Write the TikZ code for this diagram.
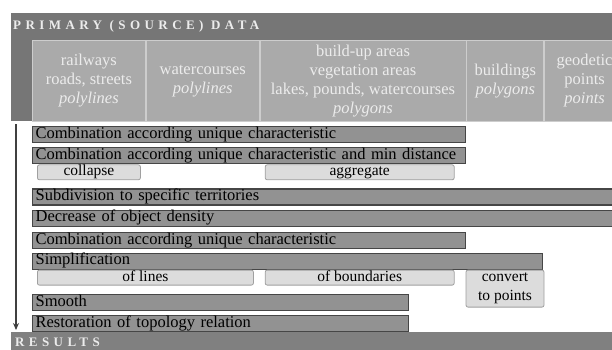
\documentclass[tikz,border=0pt]{standalone}
\usepackage{fontspec}
\setmainfont{Liberation Serif}
\usetikzlibrary{arrows.meta, positioning}
\definecolor{banddark}{RGB}{118,118,118}
\definecolor{bandlow}{RGB}{128,128,128}
\definecolor{colgray}{RGB}{170,170,170}
\definecolor{colline}{RGB}{205,205,205}
\definecolor{bargray}{RGB}{146,146,146}
\definecolor{barline}{RGB}{70,70,70}
\definecolor{subgray}{RGB}{220,220,220}
\definecolor{subline}{RGB}{160,160,160}
\definecolor{softwhite}{RGB}{236,236,236}

\begin{document}
\begin{tikzpicture}[
    x=1pt, y=1pt,
    band/.style={fill=banddark, anchor=north west, inner sep=0pt},
    headtext/.style={anchor=west, text=softwhite, inner sep=0pt,
        font=\fontsize{13}{13}\selectfont\bfseries\addfontfeature{LetterSpace=34}},
    column/.style={fill=colgray, draw=colline, line width=0.8pt, anchor=north west,
        minimum height=81pt, inner sep=0pt, align=center, text=softwhite,
        font=\fontsize{16.5}{19}\selectfont},
    bar/.style={fill=bargray, draw=barline, line width=1.2pt, anchor=north west,
        minimum height=16pt, inner xsep=3pt, inner ysep=0pt, align=left,
        text height=11pt, text depth=3.5pt, font=\fontsize{16.5}{16.5}\selectfont},
    subbox/.style={fill=subgray, draw=subline, line width=0.8pt, rounded corners=2pt,
        anchor=north west, inner sep=0pt, align=center,
        font=\fontsize{15.5}{19}\selectfont},
    onerow/.style={subbox, minimum height=15pt, text height=10pt, text depth=3pt},
    flow/.style={-{Stealth[length=7pt, width=6pt]}, line width=1.4pt, draw=black!75}
]
\clip (0,0) rectangle (612,-350);

% Source data
\node[band, minimum width=610pt, minimum height=108pt] (src) at (11,-13) {};
\node[headtext] (srctitle) at (13,-26) {PRIMARY (SOURCE) DATA};
\node[column, minimum width=113pt] (rail) at (32,-40) {railways\\roads, streets\\\textit{polylines}};
\node[column, minimum width=113pt, right=0pt of rail] (water) {watercourses\\\textit{polylines}};
\node[column, minimum width=206pt, right=0pt of water] (areas) {build-up areas\\vegetation areas\\lakes, pounds, watercourses\\\textit{polygons}};
\node[column, minimum width=77pt, right=0pt of areas] (bldg) {buildings\\\textit{polygons}};
\node[column, minimum width=80pt, right=0pt of bldg] (geod) {geodetic\\points\\\textit{points}};

% Steps
\node[bar, text width=427pt] (comb) at (32,-126) {Combination according unique characteristic};
\node[bar, text width=427pt, below=4pt of comb.south west, anchor=north west] (combdist) {Combination according unique characteristic and min distance};
\node[onerow, minimum width=103pt, below right=0pt and 5pt of combdist.south west, anchor=north west] (collapse) {collapse};
\node[onerow, minimum width=189pt, right=124pt of collapse.north east, anchor=north west] (aggregate) {aggregate};
\node[bar, text width=600pt, below=24pt of combdist.south west, anchor=north west] (subdiv) {Subdivision to specific territories};
\node[bar, text width=600pt, below=4pt of subdiv.south west, anchor=north west] (density) {Decrease of object density};
\node[bar, text width=427pt, below=5pt of density.south west, anchor=north west] (comb2) {Combination according unique characteristic};
\node[bar, text width=504pt, below=3.5pt of comb2.south west, anchor=north west] (simpl) {Simplification};
\node[onerow, minimum width=216pt, below right=0pt and 5pt of simpl.south west, anchor=north west] (lines) {of lines};
\node[onerow, minimum width=189pt, right=11pt of lines.north east, anchor=north west] (bounds) {of boundaries};
\node[subbox, minimum width=78pt, minimum height=37pt, right=11pt of bounds.north east, anchor=north west] (topoints) {convert\\to points};
\node[bar, text width=370pt, below=24pt of simpl.south west, anchor=north west] (smooth) {Smooth};
\node[bar, text width=370pt, below=4pt of smooth.south west, anchor=north west] (restore) {Restoration of topology relation};

% Results
\node[band, fill=bandlow, minimum width=610pt, minimum height=20pt] (res) at (11,-332) {};
\node[headtext] (restitle) at (15,-342) {RESULTS};

% Direction
\coordinate (flowtop) at (16,-124);
\coordinate (flowend) at (16,-330);
\draw[flow] (flowtop) -- (flowend);

\end{tikzpicture}
\end{document}
